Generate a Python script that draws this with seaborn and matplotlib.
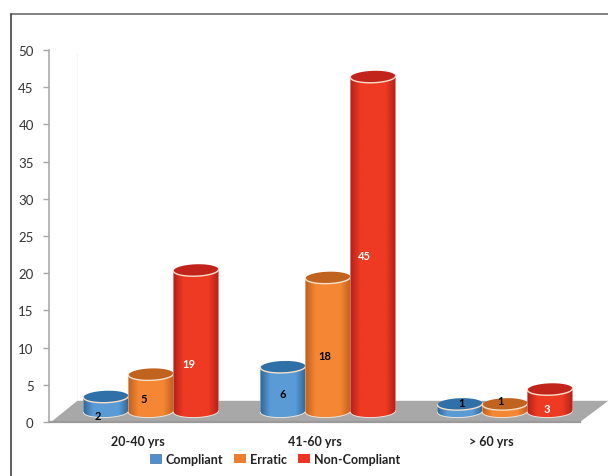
import numpy as np
import pandas as pd
import matplotlib
matplotlib.use("Agg")
import matplotlib.pyplot as plt
from matplotlib.colors import LinearSegmentedColormap
from matplotlib.lines import Line2D
from matplotlib.patches import Patch, Polygon
import seaborn as sns

# Patients per age group and compliance status
age_groups = ["20-40 yrs", "41-60 yrs", "> 60 yrs"]
statuses = ["Compliant", "Erratic", "Non-Compliant"]
compliant = [2, 6, 1]
erratic = [5, 18, 1]
non_compliant = [19, 45, 3]

# Colours of each series: legend/base, cylinder edge, cylinder centre, lid
base_colors = ["#4f8fcc", "#ed7d31", "#ee3524"]
edge_colors = ["#2f6799", "#bf601c", "#b3201a"]
centre_colors = ["#5a9bd6", "#f58634", "#ee3a22"]
lid_colors = ["#2f70a8", "#c0631f", "#c2241c"]
rim_color = "#f6dfc8"

# Nudges of the value labels in points, per series then per group
label_nudges = [[(-6, -8), (0, -3), (1, 4)],
                [(-5, -4), (-2, -8), (-3, 5)],
                [(-5, -16), (-6, -8), (-2, -6)]]
label_colors = ["black", "black", "white"]

BASELINE = 1.4     # bars stand on the floor, above the zero line
LID_RY = 0.8       # half height of an elliptical lid, in y units
TILT = 0.1         # rise of a lid's right end above its centre, in y units

sns.set_theme(style="white")
plt.rcParams["font.family"] = ["Lato", "DejaVu Sans"]

df = pd.DataFrame({
    "age": np.repeat(age_groups, len(statuses)),
    "status": statuses * len(age_groups),
    "count": np.ravel(np.column_stack([compliant, erratic, non_compliant])),
})

fig = plt.figure(figsize=(6.08, 4.77), dpi=100)
ax = fig.add_axes([49 / 608, 54 / 477, 531 / 608, 372 / 477])

sns.barplot(data=df, x="age", y="count", hue="status", hue_order=statuses,
            order=age_groups, palette=base_colors, saturation=1, width=0.763,
            dodge=True, legend=False, ax=ax)

ax.set_xlim(-0.576, 2.424)
ax.set_ylim(0, 50)
xlim, ylim = ax.get_xlim(), ax.get_ylim()

# Floor of the plot, running back from the x axis, and the faint back wall
floor_depth = 2.85
floor_shift = 0.16
ax.add_patch(Polygon([(xlim[0] + 0.012, 0), (xlim[0] + floor_shift, floor_depth),
                      (xlim[1] + floor_shift, floor_depth), (xlim[1], 0)],
                     closed=True, facecolor="#a8a8a8", edgecolor="none",
                     clip_on=False, zorder=1))
ax.add_line(Line2D([xlim[0] + floor_shift] * 2, [floor_depth, 49.5],
                   color="#f6f6f6", lw=1, zorder=0))


def lid_points(x0, width, y, start, stop, n=60):
    """Points along a tilted ellipse centred on a bar's width at height y."""
    t = np.linspace(start, stop, n)
    u = np.cos(t)
    return np.column_stack([x0 + width * (u + 1) / 2,
                            y + LID_RY * np.sin(t) + TILT * u])


for s, container in enumerate(ax.containers):
    cmap = LinearSegmentedColormap.from_list(
        f"cyl{s}", [(0, edge_colors[s]), (0.22, centre_colors[s]),
                    (0.78, centre_colors[s]), (1, edge_colors[s])])
    z = 3 + s
    for g, bar in enumerate(container):
        value = bar.get_height()
        x0, w = bar.get_x(), bar.get_width()
        bar.set_y(BASELINE)
        top = BASELINE + value

        # Cylinder outline: front of the base arc, then back along the lid front
        front = lid_points(x0, w, BASELINE, np.pi, 2 * np.pi)
        lid_front = lid_points(x0, w, top, 2 * np.pi, np.pi)
        outline = Polygon(np.vstack([front, lid_front]), closed=True,
                          facecolor="none", edgecolor="none",
                          transform=ax.transData)
        ax.add_patch(outline)
        bar.set_zorder(z)
        bar.set_clip_path(outline)

        shade = ax.imshow(np.linspace(0, 1, 64)[None, :], cmap=cmap, aspect="auto",
                          extent=(x0, x0 + w, BASELINE - 2, top + 2), zorder=z)
        shade.set_clip_path(outline)

        # Lid on top of the cylinder with a pale rim along its front
        lid = lid_points(x0, w, top, 0, 2 * np.pi)
        ax.add_patch(Polygon(lid, closed=True, facecolor=lid_colors[s],
                             edgecolor="none", zorder=z + 0.1))
        ax.plot(lid_front[:, 0], lid_front[:, 1], color=rim_color, lw=1.0,
                zorder=z + 0.2, solid_capstyle="round")
        ax.plot(front[:, 0], front[:, 1], color="#e9e4dc", lw=0.7,
                zorder=z + 0.2)

        ax.annotate(f"{value:.0f}", (x0 + w / 2, BASELINE + value / 2),
                    xytext=label_nudges[s][g], textcoords="offset points",
                    ha="center", va="center", fontsize=8, fontweight="bold",
                    color=label_colors[s], zorder=10)

ax.set_xlim(xlim)
ax.set_ylim(ylim)

# Axes: value ticks on the left, group names under the floor
ax.set_yticks(np.arange(0, 51, 5))
ax.set_xticks(np.arange(len(age_groups)) - 0.075)
ax.set_xticklabels(age_groups, fontsize=9, fontweight="bold", color="#222222")
ax.set_xlabel("")
ax.set_ylabel("")
ax.tick_params(axis="y", length=4, width=1, color="#a8a8a8", pad=7,
               labelsize=9.5, labelcolor="#333333", left=True)
ax.tick_params(axis="x", length=0, pad=9.5)
for side in ("top", "right"):
    ax.spines[side].set_visible(False)
ax.spines["left"].set_color("#ababab")
ax.spines["left"].set_linewidth(1.2)
ax.spines["bottom"].set_color("#9a9a9a")
ax.spines["bottom"].set_linewidth(1.6)
ax.spines["bottom"].set_zorder(2)

handles = [Patch(facecolor=c, edgecolor="#5a7fa5" if i == 0 else "none", lw=0.6)
           for i, c in enumerate(base_colors)]
fig.legend(handles, statuses, ncol=3, frameon=False, loc="center",
           bbox_to_anchor=(275 / 608, 1 - 460 / 477),
           prop={"weight": "bold", "size": 9}, labelcolor="#222222",
           handlelength=0.9, handleheight=0.8, handletextpad=0.35,
           columnspacing=0.9, borderpad=0)

# Frame around the figure's top and left
fig.add_artist(Line2D([11 / 608, 1], [1 - 15 / 477] * 2, color="#777777", lw=1.3))
fig.add_artist(Line2D([11 / 608] * 2, [0, 1 - 15 / 477], color="#333333", lw=1.1))

fig.savefig("out.png", dpi=100)
